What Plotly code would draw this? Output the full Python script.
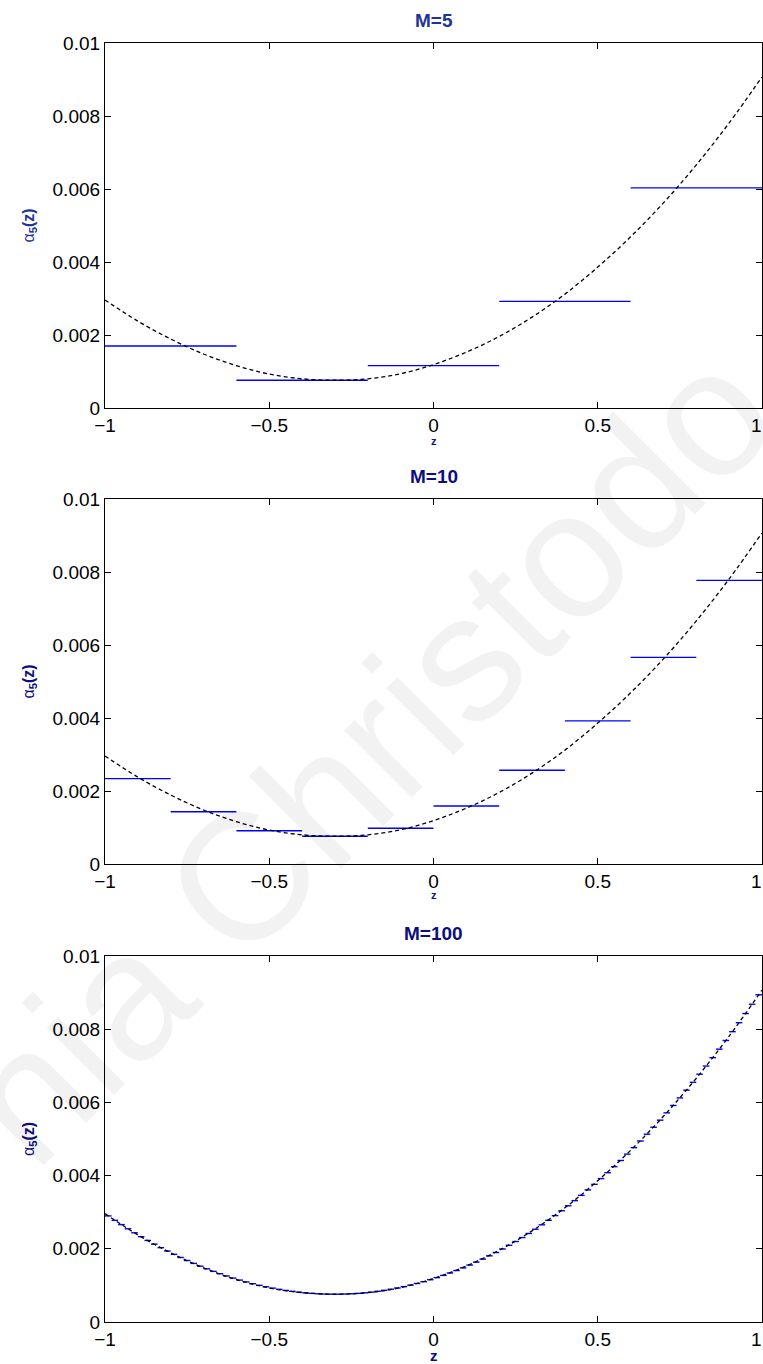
import numpy as np
import plotly.graph_objects as go

# ---------------- data ----------------
z_curve = [-1.0, -0.9, -0.8, -0.7, -0.6, -0.5, -0.4, -0.3, -0.2, -0.1, 0.0,
           0.1, 0.2, 0.3, 0.4, 0.5, 0.6, 0.7, 0.8, 0.9, 1.0]
alpha_curve = [0.00296, 0.00238, 0.00189, 0.00148, 0.00116, 0.00093, 0.00080,
               0.00076, 0.00080, 0.00094, 0.00119, 0.00153, 0.00196, 0.00249,
               0.00312, 0.00386, 0.00469, 0.00562, 0.00666, 0.00781, 0.00907]

m5_values = [0.00170, 0.00076, 0.00116, 0.00292, 0.00603]
m10_values = [0.00234, 0.00143, 0.00091, 0.00076, 0.00098,
              0.00159, 0.00257, 0.00392, 0.00566, 0.00777]
m100_values = [
    0.002899, 0.002779, 0.002661, 0.002548, 0.002438, 0.002331, 0.002228, 0.002128, 0.002031, 0.001939,
    0.001849, 0.001763, 0.001680, 0.001601, 0.001525, 0.001453, 0.001384, 0.001319, 0.001257, 0.001200,
    0.001145, 0.001094, 0.001047, 0.001002, 0.000963, 0.000926, 0.000893, 0.000863, 0.000838, 0.000816,
    0.000797, 0.000783, 0.000772, 0.000764, 0.000760, 0.000760, 0.000764, 0.000772, 0.000783, 0.000798,
    0.000816, 0.000839, 0.000865, 0.000895, 0.000929, 0.000967, 0.001008, 0.001053, 0.001102, 0.001155,
    0.001212, 0.001273, 0.001338, 0.001406, 0.001478, 0.001555, 0.001635, 0.001719, 0.001807, 0.001899,
    0.001995, 0.002095, 0.002199, 0.002307, 0.002419, 0.002535, 0.002655, 0.002779, 0.002907, 0.003039,
    0.003176, 0.003316, 0.003460, 0.003609, 0.003761, 0.003918, 0.004079, 0.004244, 0.004413, 0.004586,
    0.004764, 0.004945, 0.005131, 0.005321, 0.005515, 0.005714, 0.005916, 0.006123, 0.006335, 0.006550,
    0.006770, 0.006993, 0.007222, 0.007454, 0.007692, 0.007932, 0.008178, 0.008428, 0.008682, 0.008940]

panel_titles = ["M=5", "M=10", "M=100"]
x_tickvals = [-1, -0.5, 0, 0.5, 1]
x_ticktext = ["\u22121", "\u22120.5", "0", "0.5", "1"]
y_tickvals = [0, 0.002, 0.004, 0.006, 0.008, 0.01]
y_ticktext = ["0", "0.002", "0.004", "0.006", "0.008", "0.01"]

# ---------------- figure ----------------
W, H = 763, 1364
ML, MR, MT, MB = 105, 1, 43, 42
plot_h = H - MT - MB

def frac(px_from_top):
    return (H - MB - px_from_top) / plot_h

domains = [(frac(408), 1.0), (frac(864), frac(499)), (0.0, frac(956))]

FONT = "Liberation Sans, Arial, Helvetica, sans-serif"
fig = go.Figure()

all_steps = [m5_values, m10_values, m100_values]
for i, vals in enumerate(all_steps):
    n = len(vals)
    edges = np.linspace(-1, 1, n + 1)
    xs, ys = [], []
    for k, v in enumerate(vals):
        xs += [edges[k], edges[k + 1], None]
        ys += [v, v, None]
    suffix = "" if i == 0 else str(i + 1)
    fig.add_trace(go.Scatter(x=xs, y=ys, mode="lines",
                             line=dict(color="#0000ff", width=1.4),
                             xaxis="x" + suffix, yaxis="y" + suffix,
                             showlegend=False, hoverinfo="skip"))
    fig.add_trace(go.Scatter(x=z_curve, y=alpha_curve, mode="lines",
                             line=dict(color="black", width=1.3, dash="4px,3px",
                                       shape="spline"),
                             xaxis="x" + suffix, yaxis="y" + suffix,
                             showlegend=False, hoverinfo="skip"))

TICKFONT = dict(family=FONT, size=19, color="black")
axis_common = dict(showline=True, linecolor="black", linewidth=1.2,
                   mirror="ticks", ticks="inside", ticklen=6, tickcolor="black",
                   tickwidth=1, showgrid=False, zeroline=False,
                   tickfont=TICKFONT)

layout = dict(width=W, height=H, margin=dict(l=ML, r=MR, t=MT, b=MB),
              paper_bgcolor="white", plot_bgcolor="white",
              font=dict(family=FONT), showlegend=False)

# the last x tick label sits on the page edge; it is drawn as an annotation
shown_xtext = x_ticktext[:-1] + [""]
for i, dom in enumerate(domains):
    suffix = "" if i == 0 else str(i + 1)
    layout["xaxis" + suffix] = dict(axis_common, domain=[0, 1], range=[-1, 1],
                                    anchor="y" + suffix, tickvals=x_tickvals,
                                    ticktext=shown_xtext)
    layout["yaxis" + suffix] = dict(axis_common, domain=list(dom), range=[0, 0.01],
                                    anchor="x" + suffix, tickvals=y_tickvals,
                                    ticktext=y_ticktext)

fig.update_layout(**layout)

title_colors = ["#1c3596", "#0d0d80", "#0d0d80"]
zlabel_pos = [(441, 11), (895, 11), (1355, 15)]
for i, dom in enumerate(domains):
    suffix = "" if i == 0 else str(i + 1)
    top = dom[1]
    fig.add_annotation(text="<b>%s</b>" % panel_titles[i], xref="paper", yref="paper",
                       x=0.5, y=top, xanchor="center", yanchor="middle", yshift=23,
                       showarrow=False,
                       font=dict(family=FONT, size=19, color=title_colors[i]))
    fig.add_annotation(text="\u03b1<sub><b>5</b></sub><b>(z)</b>", xref="paper", yref="paper",
                       x=0, y=(dom[0] + dom[1]) / 2, xanchor="center", yanchor="middle",
                       xshift=-76, textangle=-90, showarrow=False,
                       font=dict(family=FONT, size=16, color=title_colors[i]))
    py, fs = zlabel_pos[i]
    fig.add_annotation(text="<b>z</b>", xref="paper", yref="paper",
                       x=0.5, y=frac(py), xanchor="center", yanchor="middle",
                       showarrow=False,
                       font=dict(family=FONT, size=fs, color="#0d0d80"))
    # last x tick label, pinned to the right page edge
    fig.add_annotation(text=x_ticktext[-1], xref="x" + suffix, yref="paper",
                       x=x_tickvals[-1], y=dom[0], xanchor="right", yanchor="middle",
                       xshift=1, yshift=-17, showarrow=False, borderpad=0,
                       font=TICKFONT)

# faint watermark text
fig.add_annotation(text="nia Christodo", xref="paper", yref="paper",
                   x=(365 - ML) / (W - ML - MR), y=frac(755),
                   xanchor="center", yanchor="middle", textangle=-45,
                   showarrow=False,
                   font=dict(family=FONT, size=180, color="rgba(0,0,0,0.05)"))

fig.write_html("out.html",
               config={"displayModeBar": False},
               post_script="var st=document.createElement('style');"
                           "st.textContent='html,body{margin:0;padding:0;overflow:hidden;}';"
                           "document.head.appendChild(st);")
